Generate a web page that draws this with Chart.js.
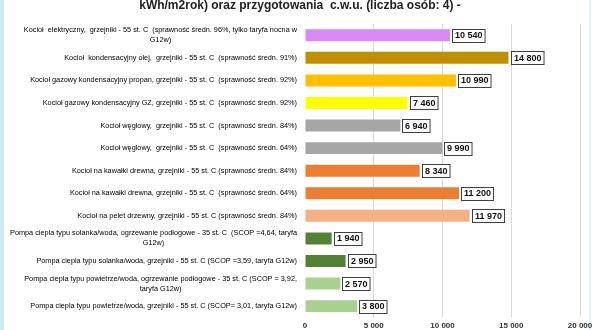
<!DOCTYPE html>
<html><head><meta charset="utf-8">
<script src="https://cdn.jsdelivr.net/npm/chart.js@4"></script>
<style>html,body{margin:0;padding:0;background:#fff}#wrap{width:600px;height:330px;position:relative}</style>
</head><body><div id="wrap"><canvas id="c" width="600" height="330"></canvas></div>
<script>
const titleText = "kWh/m2rok) oraz przygotowania  c.w.u. (liczba osób: 4) -";
const categories = [
  ["Kocioł  elektryczny,  grzejniki - 55 st. C  (sprawność średn. 96%, tylko taryfa nocna w", "G12w)"],
  ["Kocioł  kondensacyjny olej,  grzejniki - 55 st. C  (sprawność średn. 91%)"],
  ["Kocioł gazowy kondensacyjny propan, grzejniki - 55 st. C  (sprawność średn. 92%)"],
  ["Kocioł gazowy kondensacyjny GZ, grzejniki - 55 st. C  (sprawność średn. 92%)"],
  ["Kocioł węglowy,  grzejniki - 55 st. C  (sprawność średn. 84%)"],
  ["Kocioł węglowy,  grzejniki - 55 st. C  (sprawność średn. 64%)"],
  ["Kocioł na kawałki drewna, grzejniki - 55 st. C (sprawność średn. 84%)"],
  ["Kocioł na kawałki drewna, grzejniki - 55 st. C  (sprawność średn. 64%)"],
  ["Kocioł na pelet drzewny, grzejniki - 55 st. C (sprawność średn. 84%)"],
  ["Pompa ciepla typu solanka/woda, ogrzewanie podłogowe - 35 st. C  (SCOP =4,64, taryfa", "G12w)"],
  ["Pompa ciepla typu solanka/woda, grzejniki - 55 st. C (SCOP =3,59, taryfa G12w)"],
  ["Pompa ciepla typu powietrze/woda, ogrzewanie podłogowe - 35 st. C (SCOP = 3,92,", "taryfa G12w)"],
  ["Pompa ciepla typu powietrze/woda, grzejniki - 55 st. C (SCOP= 3,01, taryfa G12w)"]
];
const values = [10540, 14800, 10990, 7460, 6940, 9990, 8340, 11200, 11970, 1940, 2950, 2570, 3800];
const barColors = ["#D98AF5", "#BF8F00", "#FFC000", "#FFFF00", "#A6A6A6", "#A6A6A6", "#ED7D31", "#ED7D31", "#F4B183", "#548235", "#548235", "#A9D18E", "#A9D18E"];
const xMin = 0, xMax = 20000, xStep = 5000;

const fmt = n => String(n).replace(/\B(?=(\d{3})+(?!\d))/g, ' ');

const decor = {
  id: 'decor',
  beforeDraw(chart) {
    const ctx = chart.ctx;
    ctx.save();
    ctx.fillStyle = '#fff';
    ctx.fillRect(0, 0, chart.width, chart.height);
    ctx.fillStyle = '#cfe8f6';
    ctx.fillRect(0, 0, 4, chart.height);
    ctx.fillStyle = '#e6f2fa';
    ctx.fillRect(589, 0, 2, chart.height);
    ctx.restore();
  },
  afterDatasetsDraw(chart) {
    const ctx = chart.ctx;
    const meta = chart.getDatasetMeta(0);
    ctx.save();
    ctx.font = "bold 9px 'Liberation Sans', Arial, sans-serif";
    ctx.textBaseline = 'middle';
    ctx.textAlign = 'left';
    meta.data.forEach((bar, i) => {
      const t = fmt(values[i]);
      const w = ctx.measureText(t).width;
      const x0 = Math.round(bar.x + 2) + 0.5;
      const y0 = Math.round(bar.y - 6.5) + 0.5;
      ctx.fillStyle = '#fff';
      ctx.fillRect(x0, y0, w + 5, 13);
      ctx.strokeStyle = '#404040';
      ctx.lineWidth = 1;
      ctx.strokeRect(x0, y0, w + 5, 13);
      ctx.fillStyle = '#111';
      ctx.fillText(t, x0 + 2.5, bar.y + 0.5);
    });
    ctx.restore();
  },
  afterDraw(chart) {
    const ctx = chart.ctx;
    const ys = chart.scales.y;
    ctx.save();
    ctx.fillStyle = '#000';
    ctx.textBaseline = 'middle';
    ctx.textAlign = 'center';
    ctx.font = "7.3px 'Liberation Sans', Arial, sans-serif";
    const right = 297;
    categories.forEach((lines, i) => {
      const y = ys.getPixelForValue(i);
      const maxW = Math.max(...lines.map(l => ctx.measureText(l).width));
      const cx = right - maxW / 2;
      const lh = 10;
      const top = y - (lines.length - 1) * lh / 2;
      lines.forEach((l, k) => ctx.fillText(l, cx, top + k * lh));
    });
    ctx.font = "bold 12px 'Liberation Sans', Arial, sans-serif";
    ctx.fillStyle = '#222';
    ctx.fillText(titleText, 300, 6);
    ctx.restore();
  }
};

new Chart(document.getElementById('c'), {
  type: 'bar',
  data: {
    labels: categories,
    datasets: [{
      data: values,
      backgroundColor: barColors,
      borderWidth: 0,
      barPercentage: 0.53,
      categoryPercentage: 1
    }]
  },
  options: {
    indexAxis: 'y',
    responsive: false,
    animation: false,
    devicePixelRatio: 1,
    layout: { padding: { left: 305, right: 20, top: 24, bottom: -5 } },
    plugins: { legend: { display: false }, tooltip: { enabled: false }, title: { display: false } },
    scales: {
      x: {
        min: xMin, max: xMax,
        ticks: {
          stepSize: xStep,
          callback: v => fmt(v),
          font: { size: 8, weight: 'bold', family: "'Liberation Sans', Arial, sans-serif" },
          color: '#333',
          padding: 4,
          maxRotation: 0
        },
        grid: {
          color: c => (c.tick && c.tick.value === 0) ? 'rgba(0,0,0,0)' : '#d9d9d9',
          drawTicks: false
        },
        border: { display: false }
      },
      y: { display: false }
    }
  },
  plugins: [decor]
});
</script>
</body></html>
